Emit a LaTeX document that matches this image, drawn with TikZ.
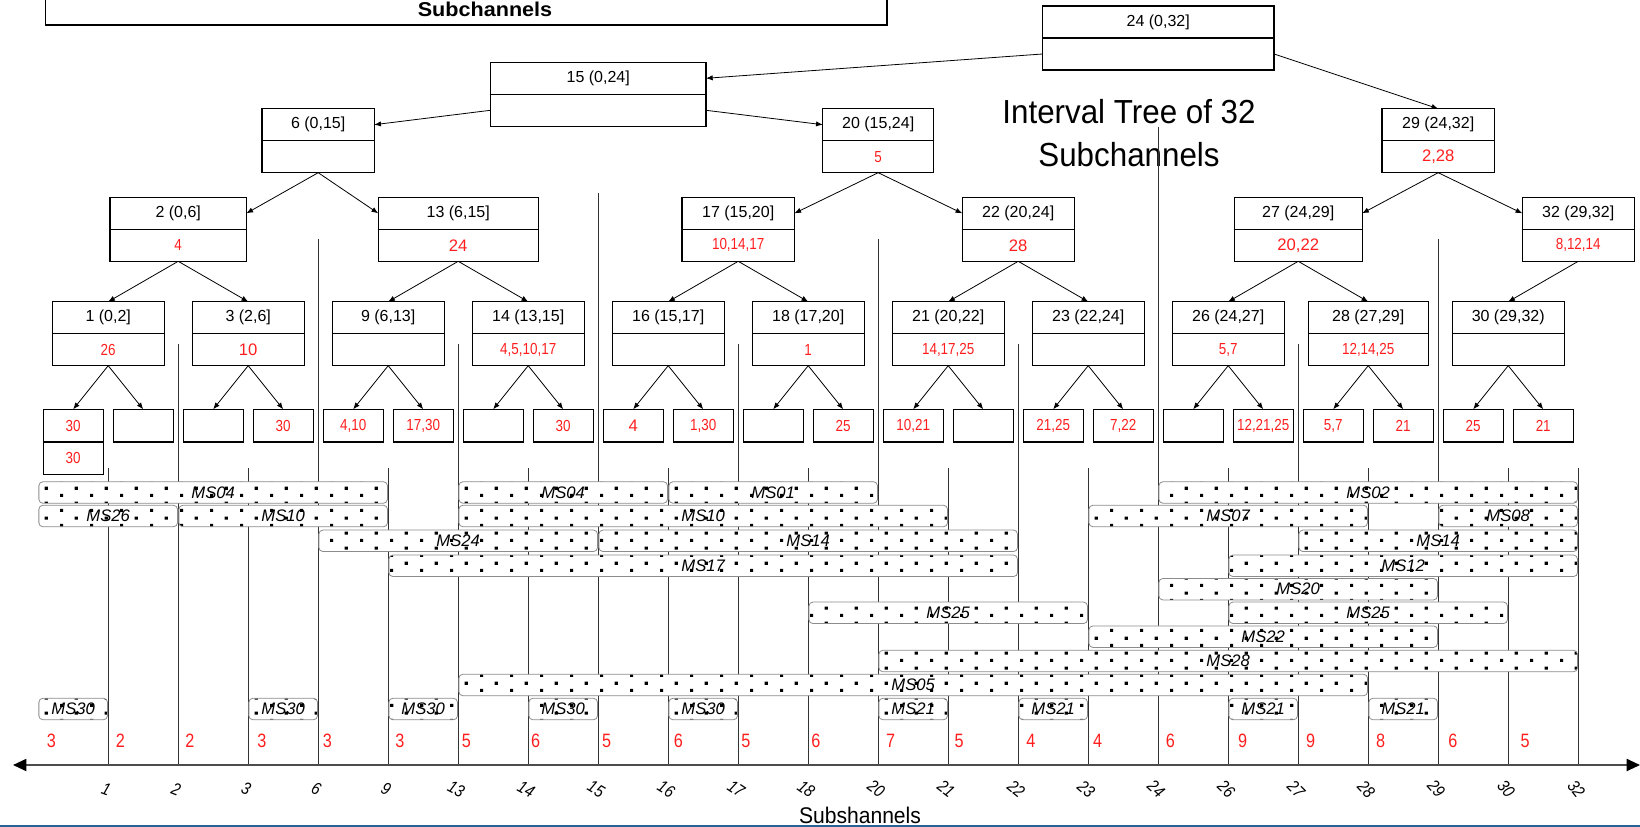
\documentclass[tikz,border=0pt]{standalone}
\usepackage{fontspec}
\setmainfont{Liberation Sans}
\newfontfamily\narrowf[FakeStretch=0.84]{Liberation Sans}
\newfontfamily\titlef[FakeStretch=0.94]{Liberation Sans}
\newfontfamily\boxf[FakeStretch=1.08]{Liberation Sans}
\newfontfamily\subf[FakeStretch=0.93]{Liberation Sans}
\usetikzlibrary{arrows.meta,patterns}

\pgfdeclarepatternformonly{bigdots}{\pgfqpoint{0pt}{0pt}}{\pgfqpoint{22.5pt}{11.25pt}}{\pgfqpoint{22.5pt}{11.25pt}}{%
 \pgfpathrectangle{\pgfqpoint{0pt}{0pt}}{\pgfqpoint{2.5pt}{2.5pt}}%
 \pgfpathrectangle{\pgfqpoint{11.25pt}{5.625pt}}{\pgfqpoint{2.5pt}{2.5pt}}%
 \pgfusepath{fill}}

\definecolor{redn}{RGB}{255,30,30}
\definecolor{bluel}{RGB}{40,98,150}

\tikzset{
 tpart/.style={draw, line width=1pt, inner sep=0pt, outer sep=0pt, minimum height=24pt, anchor=north, font=\fontsize{12}{14}\selectfont},
 rn/.style={text=redn, font=\narrowf\fontsize{12}{14}\selectfont},
 rw/.style={text=redn, font=\fontsize{12.5}{14}\selectfont},
 leaf/.style={draw, line width=1pt, inner sep=0pt, outer sep=0pt, minimum height=24.4pt, minimum width=45pt, anchor=north},
 arr/.style={-{Latex[length=5pt,width=4pt]}, line width=0.6pt},
 vline/.style={line width=0.6pt, black!80},
 msb/.style={draw=black!45, line width=0.6pt, rounded corners=3pt, preaction={fill=white}, pattern=bigdots, inner sep=0pt, outer sep=0pt, minimum height=16.1pt, font=\itshape\fontsize{12.5}{14}\selectfont},
 bnum/.style={text=redn, font=\narrowf\fontsize{14.5}{16}\selectfont},
 alab/.style={font=\narrowf\itshape\fontsize{13}{14}\selectfont},
 axisst/.style={{Triangle[length=10pt,width=9pt,color=black]}-{Triangle[length=10pt,width=9pt,color=black]}, line width=1.4pt, draw=black!70},
}

\newcommand\tnode[7]{%
 \node[tpart, minimum width=#4*0.75pt] (#1t) at (#2,#3) {#5};
 \node[tpart, minimum width=#4*0.75pt, #6] (#1b) at (#1t.south) {#7};
}

\begin{document}
\begin{tikzpicture}[x=0.75pt,y=-0.75pt]
\useasboundingbox (0,0) rectangle (1640,827);

% top-left box
\node[draw, line width=1pt, anchor=south, minimum width=631pt, minimum height=45pt, inner sep=0pt] (tbox) at (466.35,25.7) {};
\node[font=\boxf\bfseries\fontsize{15}{18}\selectfont, anchor=base] (tsub) at (485,16.7) {Subchannels};

% title
\node[font=\titlef\fontsize{25}{32}\selectfont, anchor=base] (title1) at (1129,123.3) {Interval Tree of 32};
\node[font=\titlef\fontsize{25}{32}\selectfont, anchor=base] (title2) at (1129,166.7) {Subchannels};

% vertical grid lines
\foreach \i/\s in {0/468,1/344,2/468,3/239,4/468,5/344,6/468,7/193.5,8/468,9/344,10/468,11/239,12/468,13/344,14/468,15/126.7,16/468,17/344,18/468,19/239,20/468,21/468}{
 \coordinate (vt\i) at ({108.2+70*\i},\s);
 \coordinate (vb\i) at ({108.2+70*\i},765);
 \draw[vline] (vt\i) -- (vb\i);
}

% tree nodes
\tnode{n24}{1158.2}{6}{231.6}{24 (0,32]}{rn}{}
\tnode{n15}{598.2}{62.3}{215.6}{15 (0,24]}{rn}{}
\tnode{n6}{318.2}{108.7}{112.2}{6 (0,15]}{rn}{}
\tnode{n20}{878.2}{108.7}{111}{20 (15,24]}{rn}{5}
\tnode{n29}{1438.2}{108.7}{112.3}{29 (24,32]}{rw}{2,28}
\tnode{n2}{178.2}{197.3}{136.4}{2 (0,6]}{rn}{4}
\tnode{n13}{458.2}{197.3}{160}{13 (6,15]}{rw}{24}
\tnode{n17}{738.2}{197.3}{112.5}{17 (15,20]}{rn}{10,14,17}
\tnode{n22}{1018.2}{197.3}{112}{22 (20,24]}{rw}{28}
\tnode{n27}{1298.2}{197.3}{128}{27 (24,29]}{rw}{20,22}
\tnode{n32}{1578.2}{197.3}{112}{32 (29,32]}{rn}{8,12,14}
\tnode{n1}{108.2}{301.7}{112}{1 (0,2]}{rn}{26}
\tnode{n3}{248.2}{301.7}{112}{3 (2,6]}{rw}{10}
\tnode{n9}{388.2}{301.7}{112}{9 (6,13]}{rn}{}
\tnode{n14}{528.2}{301.7}{112}{14 (13,15]}{rn}{4,5,10,17}
\tnode{n16}{668.2}{301.7}{112}{16 (15,17]}{rn}{}
\tnode{n18}{808.2}{301.7}{112}{18 (17,20]}{rn}{1}
\tnode{n21}{948.2}{301.7}{112}{21 (20,22]}{rn}{14,17,25}
\tnode{n23}{1088.2}{301.7}{112}{23 (22,24]}{rn}{}
\tnode{n26}{1228.2}{301.7}{112}{26 (24,27]}{rn}{5,7}
\tnode{n28}{1368.2}{301.7}{120}{28 (27,29]}{rn}{12,14,25}
\tnode{n30}{1508.2}{301.7}{112}{30 (29,32)}{rn}{}

% leaves
\foreach \k/\txt/\st in {0/30/rn,1/{}/rn,2/{}/rn,3/30/rn,4/{4,10}/rn,5/{17,30}/rn,6/{}/rn,7/30/rn,8/4/rw,9/{1,30}/rn,10/{}/rn,11/25/rn,12/{10,21}/rn,13/{}/rn,14/{21,25}/rn,15/{7,22}/rn,16/{}/rn,17/{12,21,25}/rn,18/{5,7}/rn,19/21/rn,20/25/rn,21/21/rn}{
 \node[leaf,\st] (lf\k) at ({73.2+70*\k},409.3) {\txt};
}
\node[leaf,rn] (lf0b) at (lf0.south) {30};

% tree connectors
\draw[arr] (n24b.west) -- (n15t.east);
\draw[arr] (n24b.east) -- (n29t.north);
\draw[arr] (n15b.west) -- (n6t.east);
\draw[arr] (n15b.east) -- (n20t.west);
\draw[arr] (n6b.south) -- (n2t.east);
\draw[arr] (n6b.south) -- (n13t.west);
\draw[arr] (n20b.south) -- (n17t.east);
\draw[arr] (n20b.south) -- (n22t.west);
\draw[arr] (n29b.south) -- (n27t.east);
\draw[arr] (n29b.south) -- (n32t.west);
\foreach \p/\c in {n2/n1,n2/n3,n13/n9,n13/n14,n17/n16,n17/n18,n22/n21,n22/n23,n27/n26,n27/n28,n32/n30}{
 \draw[arr] (\p b.south) -- (\c t.north);
}
\foreach \p [count=\c from 0] in {n1,n3,n9,n14,n16,n18,n21,n23,n26,n28,n30}{
 \pgfmathtruncatemacro\la{2*\c}
 \pgfmathtruncatemacro\lb{2*\c+1}
 \draw[arr] (\p b.south) -- (lf\la.north);
 \draw[arr] (\p b.south) -- (lf\lb.north);
}

% MS bars
\foreach \yy/\a/\b/\t [count=\k] in {
 492.5/-1/4/MS04, 492.5/5/8/MS04, 492.5/8/11/MS01, 492.5/15/21/MS02,
 516/-1/1/MS26, 516/1/4/MS10, 516/5/12/MS10, 516/14/18/MS07, 516/19/21/MS08,
 540.8/3/7/MS24, 540.8/7/13/MS14, 540.8/17/21/MS14,
 565.8/4/13/MS17, 565.8/16/21/MS12,
 589.2/15/19/MS20,
 612.8/10/14/MS25, 612.8/16/20/MS25,
 636.7/14/19/MS22,
 661/11/21/MS28,
 685/5/18/MS05,
 709/-1/0/MS30, 709/2/3/MS30, 709/4/5/MS30, 709/6/7/MS30, 709/8/9/MS30,
 709/11/12/MS21, 709/13/14/MS21, 709/16/17/MS21, 709/18/19/MS21}{
 \node[msb, minimum width={(\b-\a)*52.5pt-1pt}] (bar\k) at ({108.2+35*(\a+\b)},\yy) {\t};
}

% red counts
\foreach \x/\n [count=\k] in {51.3/3,120.3/2,189.9/2,262/3,327.4/3,400/3,466.5/5,535.6/6,606.7/5,678.3/6,745.8/5,816/6,890.6/7,959/5,1030.8/4,1097.7/4,1170.4/6,1242.6/9,1310.6/9,1380.7/8,1452.8/6,1525/5}{
 \node[bnum] (cnt\k) at (\x,741) {\n};
}

% axis
\coordinate (axL) at (13,765);
\coordinate (axR) at (1640,765);
\draw[axisst] (axL) -- (axR);

% axis labels
\foreach \l [count=\i from 0] in {1,2,3,6,9,13,14,15,16,17,18,20,21,22,23,24,26,27,28,29,30,32}{
 \node[alab, inner sep=1pt, rotate={-20-1.5*\i}] (al\i) at ({106.2+70*\i},789) {\l};
}
\node[font=\subf\fontsize{17}{20}\selectfont, anchor=base] (sublab) at (860,823) {Subshannels};

% bottom blue rule
\coordinate (bl) at (0,825.8);
\coordinate (br) at (1640,825.8);
\draw[bluel, line width=1.9pt] (bl) -- (br);
\end{tikzpicture}
\end{document}
